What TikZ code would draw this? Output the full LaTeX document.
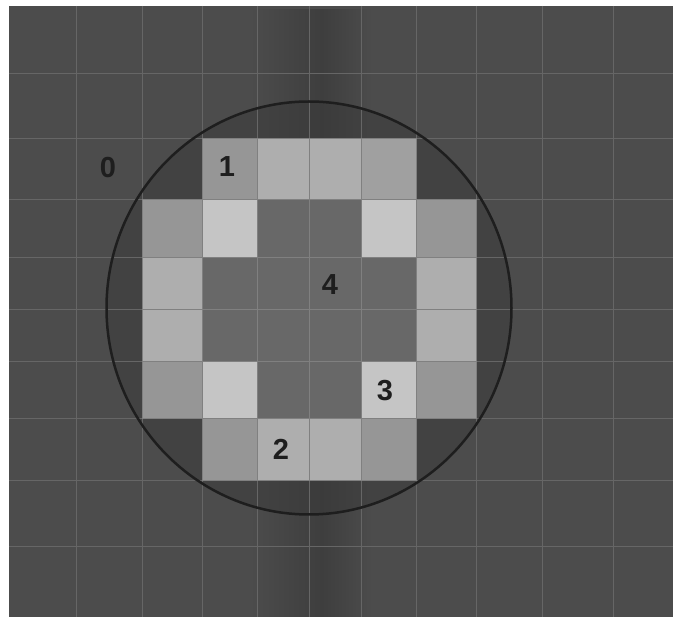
\documentclass[tikz,border=0pt]{standalone}
\usepackage{fontspec}
\setmainfont{Liberation Sans}
\definecolor{bgc}{RGB}{76,76,76}
\definecolor{bgdark}{RGB}{62,62,62}
\definecolor{inc}{RGB}{58,58,58}
\definecolor{gridc}{RGB}{102,102,102}
\definecolor{edgec}{RGB}{128,128,128}
\definecolor{medc}{RGB}{150,150,150}
\definecolor{medlc}{RGB}{160,160,160}
\definecolor{litec}{RGB}{174,174,174}
\definecolor{vlitec}{RGB}{197,197,197}
\definecolor{midc}{RGB}{104,104,104}
\definecolor{txtc}{RGB}{30,30,30}
\tikzset{
  gridline/.style={draw=gridc, line width=0.9pt},
  cellbox/.style={draw=edgec, line width=0.8pt},
  ringline/.style={draw=txtc, line width=2.5pt},
  lbl/.style={text=txtc, font=\fontsize{29}{35}\selectfont\bfseries, inner sep=0pt}
}
\begin{document}
\begin{tikzpicture}[x=1pt,y=-1pt]
\useasboundingbox (0,0) rectangle (673,617);
\fill[bgc] (9,6) rectangle (673,617);
% darker vertical band in the middle
\shade[left color=bgc, right color=bgdark] (250,8) rectangle (322,617);
\shade[left color=bgdark, right color=bgc] (322,8) rectangle (372,617);
\fill[bgc] (250,6) rectangle (372,9);
% darker disc interior
\fill[inc, opacity=0.5] (309,308) ellipse [x radius=202.5, y radius=206.5];
% grid lines
\foreach \gx in {76,142,202,257,309,361,416,476,542,613}
  \draw[gridline] (\gx,6) -- (\gx,617);
\foreach \gy in {73,138,199,257,309,361,418,480,546}
  \draw[gridline] (9,\gy) -- (673,\gy);
% row 2
\fill[cellbox, fill=medc]  (202,138) rectangle (257,199);
\fill[cellbox, fill=litec] (257,138) rectangle (309,199);
\fill[cellbox, fill=litec] (309,138) rectangle (361,199);
\fill[cellbox, fill=medlc] (361,138) rectangle (416,199);
% row 3
\fill[cellbox, fill=medc]  (142,199) rectangle (202,257);
\fill[cellbox, fill=vlitec](202,199) rectangle (257,257);
\fill[cellbox, fill=midc]  (257,199) rectangle (309,257);
\fill[cellbox, fill=midc]  (309,199) rectangle (361,257);
\fill[cellbox, fill=vlitec](361,199) rectangle (416,257);
\fill[cellbox, fill=medc]  (416,199) rectangle (476,257);
% rows 4 and 5
\foreach \ya/\yb in {257/309,309/361}{
  \fill[cellbox, fill=litec] (142,\ya) rectangle (202,\yb);
  \fill[cellbox, fill=midc]  (202,\ya) rectangle (257,\yb);
  \fill[cellbox, fill=midc]  (257,\ya) rectangle (309,\yb);
  \fill[cellbox, fill=midc]  (309,\ya) rectangle (361,\yb);
  \fill[cellbox, fill=midc]  (361,\ya) rectangle (416,\yb);
  \fill[cellbox, fill=litec] (416,\ya) rectangle (476,\yb);
}
% row 6
\fill[cellbox, fill=medc]  (142,361) rectangle (202,418);
\fill[cellbox, fill=vlitec](202,361) rectangle (257,418);
\fill[cellbox, fill=midc]  (257,361) rectangle (309,418);
\fill[cellbox, fill=midc]  (309,361) rectangle (361,418);
\fill[cellbox, fill=vlitec](361,361) rectangle (416,418);
\fill[cellbox, fill=medc]  (416,361) rectangle (476,418);
% row 7
\fill[cellbox, fill=medc]  (202,418) rectangle (257,480);
\fill[cellbox, fill=litec] (257,418) rectangle (309,480);
\fill[cellbox, fill=litec] (309,418) rectangle (361,480);
\fill[cellbox, fill=medc]  (361,418) rectangle (416,480);
% ring
\draw[ringline] (309,308) ellipse [x radius=202.5, y radius=206.5];
% labels
\node[lbl] (l0) at (108,168) {0};
\node[lbl] (l1) at (227,167) {1};
\node[lbl] (l4) at (330,285) {4};
\node[lbl] (l3) at (385,391) {3};
\node[lbl] (l2) at (281,449) {2};
\end{tikzpicture}
\end{document}
